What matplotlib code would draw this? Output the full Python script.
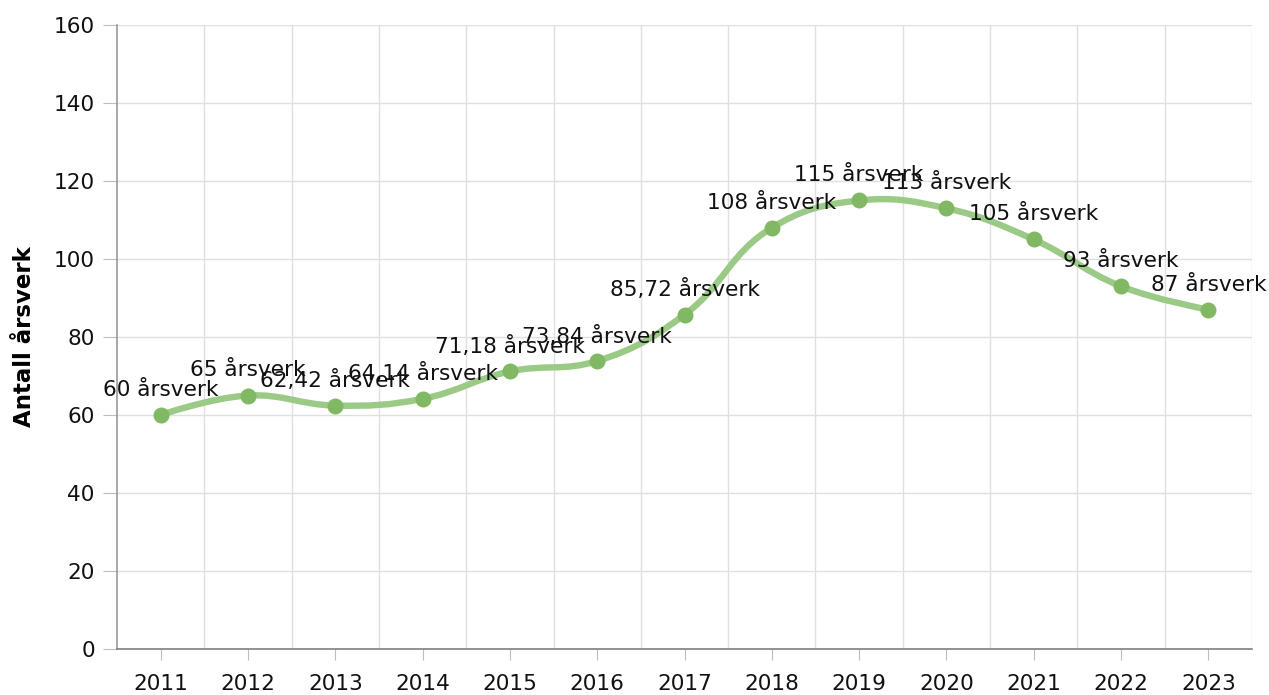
import numpy as np
import matplotlib
matplotlib.use("Agg")
import matplotlib.pyplot as plt
from matplotlib.path import Path
from matplotlib.patches import PathPatch

# data
years = ["2011", "2012", "2013", "2014", "2015", "2016", "2017",
         "2018", "2019", "2020", "2021", "2022", "2023"]
values = [60, 65, 62.42, 64.14, 71.18, 73.84, 85.72, 108, 115, 113, 105, 93, 87]
value_labels = ["60", "65", "62,42", "64,14", "71,18", "73,84", "85,72",
                "108", "115", "113", "105", "93", "87"]
unit = "årsverk"
y_title = "Antall årsverk"

plt.rcParams["font.family"] = ["DejaVu Sans"]

W, H = 1269, 695
fig = plt.figure(figsize=(W / 100, H / 100), dpi=100)
left, right, top, bottom = 117, 1252, 25, 649
ax = fig.add_axes([left / W, 1 - bottom / H, (right - left) / W, (bottom - top) / H])

x = np.arange(len(years))
ax.set_xlim(-0.5, len(years) - 0.5)
ax.set_ylim(0, 160)

fs = 15.6

# grid
grid_c = "#e0e0e0"
ax.set_yticks(np.arange(0, 161, 20))
ax.set_xticks(x)
ax.set_xticklabels(years)
for gx in np.arange(0.5, len(years), 1.0):
    ax.axvline(gx, color=grid_c, lw=1, zorder=0)
for gy in np.arange(20, 161, 20):
    ax.axhline(gy, color=grid_c, lw=1, zorder=0)

for s in ["top", "right"]:
    ax.spines[s].set_visible(False)
ax.spines["left"].set_color("#9a9a9a")
ax.spines["bottom"].set_color("#7f7f7f")
ax.spines["left"].set_linewidth(1.2)
ax.spines["bottom"].set_linewidth(1.2)
ax.tick_params(axis="y", length=10, color="#bdbdbd", labelsize=fs, pad=6, labelcolor="#111111")
ax.tick_params(axis="x", length=8, color="#bdbdbd", labelsize=fs, pad=10, labelcolor="#111111")
ax.set_ylabel(y_title, fontsize=16.5, fontweight="bold")
ax.yaxis.set_label_coords(-0.071, 0.5)

# smooth spline (highcharts-like) computed in pixel-scaled space
sx = (right - left) / len(years)
sy = (bottom - top) / 160.0
px = x * sx
py = -np.array(values) * sy
smoothing = 1.5
denom = smoothing + 1
n = len(px)
lc = [(px[i], py[i]) for i in range(n)]
rc = [(px[i], py[i]) for i in range(n)]
for i in range(1, n - 1):
    lX = (smoothing * px[i] + px[i - 1]) / denom
    lY = (smoothing * py[i] + py[i - 1]) / denom
    rX = (smoothing * px[i] + px[i + 1]) / denom
    rY = (smoothing * py[i] + py[i + 1]) / denom
    dl = np.hypot(lX - px[i], lY - py[i])
    dr = np.hypot(rX - px[i], rY - py[i])
    la = np.arctan2(lY - py[i], lX - px[i])
    ra = np.arctan2(rY - py[i], rX - px[i])
    ja = np.pi / 2 + (la + ra) / 2
    if abs(la - ja) > np.pi / 2:
        ja -= np.pi
    lX = px[i] + np.cos(ja) * dl
    lY = py[i] + np.sin(ja) * dl
    rX = px[i] + np.cos(np.pi + ja) * dr
    rY = py[i] + np.sin(np.pi + ja) * dr
    lc[i] = (lX, lY)
    rc[i] = (rX, rY)

verts = [(px[0] / sx, -py[0] / sy)]
codes = [Path.MOVETO]
for i in range(1, n):
    for (vx, vy) in [rc[i - 1], lc[i], (px[i], py[i])]:
        verts.append((vx / sx, -vy / sy))
        codes.append(Path.CURVE4)
ax.add_patch(PathPatch(Path(verts, codes), facecolor="none", edgecolor="#9bc986",
                       lw=4.6, capstyle="round", joinstyle="round", zorder=3))

ax.plot(x, values, "o", color="#80b864", markersize=11.5, markeredgewidth=0, zorder=4)

for xi, v, lab in zip(x, values, value_labels):
    ax.annotate(f"{lab} {unit}", (xi, v), xytext=(0, 25), textcoords="offset pixels",
                ha="center", va="center", fontsize=fs, color="#111111", zorder=5)

fig.savefig("out.png", dpi=100)
